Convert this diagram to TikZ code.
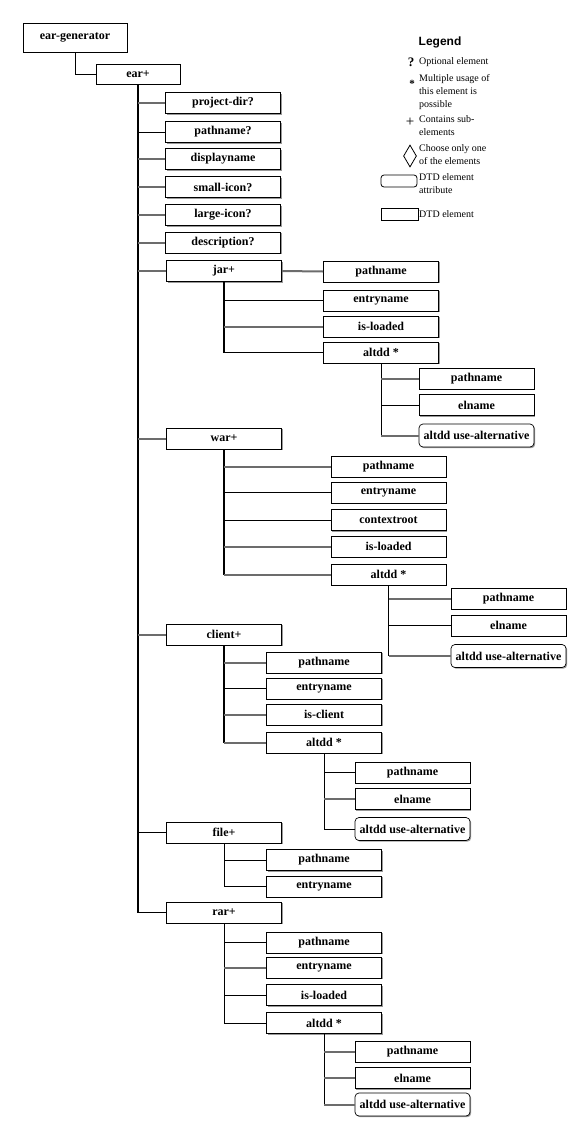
\documentclass[tikz,border=0pt]{standalone}
\usepackage{fontspec}
\setmainfont{Liberation Serif}
\newfontfamily\legendsans{Liberation Sans}
\usetikzlibrary{positioning, shapes.geometric, shadows}

\begin{document}
\begin{tikzpicture}[x=1pt, y=-1pt,
		elem/.style={draw, fill=white, line width=0.7pt, minimum width=115pt, minimum height=21pt, inner sep=0pt,
			font=\fontsize{12}{13}\selectfont\bfseries,
			drop shadow={shadow xshift=1.2pt, shadow yshift=-1.2pt, fill=gray!80, opacity=1}},
		attr/.style={elem, rounded corners=4pt, minimum height=23pt},
		gl/.style={draw=gray!85!black, line width=2pt},
		bl/.style={draw=black, line width=1pt},
		trunk/.style={draw=black, line width=2pt},
		legtext/.style={font=\fontsize{10}{13}\selectfont, inner sep=0pt, align=left}
		]
		\useasboundingbox (0,0) rectangle (577,1138);

		% root
		\node[elem, minimum width=104pt, minimum height=29pt] (gen) at (75,37.5) {ear-generator};
		\node[elem, minimum width=84pt, minimum height=20pt] (ear) at (138,74) {ear+};

		% ear children
		\node[elem] (pdir) at (223,103) {project-dir?};
		\node[elem] (pname) at (223,132) {pathname?};
		\node[elem] (dname) at (223,159) {displayname};
		\node[elem] (sicon) at (223,187) {small-icon?};
		\node[elem] (licon) at (223,215) {large-icon?};
		\node[elem] (descr) at (223,242.5) {description?};
		\node[elem] (jar) at (224,271) {jar+};
		\node[elem] (war) at (224,438.5) {war+};
		\node[elem] (client) at (224,634.5) {client+};
		\node[elem] (file) at (224,832.5) {file+};
		\node[elem] (rar) at (224,912.5) {rar+};

		% jar
		\node[elem] (jarpath) at (381,271.5) {pathname};
		\node[elem] (jarentry) at (381,300.5) {entryname};
		\node[elem] (jarload) at (381,326.5) {is-loaded};
		\node[elem] (jaralt) at (381,352.5) {altdd *};
		\node[elem] (jaraltpath) at (476.5,378.5) {pathname};
		\node[elem] (jaraltel) at (476.5,405) {elname};
		\node[attr] (jaraltuse) at (476.5,435.5) {altdd use-alternative};

		% war
		\node[elem] (warpath) at (388.5,466.5) {pathname};
		\node[elem] (warentry) at (388.5,492.5) {entryname};
		\node[elem] (warroot) at (388.5,520) {contextroot};
		\node[elem] (warload) at (388.5,546.5) {is-loaded};
		\node[elem] (waralt) at (388.5,574.5) {altdd *};
		\node[elem] (waraltpath) at (508.5,598.5) {pathname};
		\node[elem] (waraltel) at (508.5,625.5) {elname};
		\node[attr] (waraltuse) at (508.5,656) {altdd use-alternative};

		% client
		\node[elem] (clipath) at (324,662.5) {pathname};
		\node[elem] (clientry) at (324,688.5) {entryname};
		\node[elem] (cliis) at (324,714.5) {is-client};
		\node[elem] (clialt) at (324,742.5) {altdd *};
		\node[elem] (clialtpath) at (412.5,772.5) {pathname};
		\node[elem] (clialtel) at (412.5,799) {elname};
		\node[attr] (clialtuse) at (412.5,829) {altdd use-alternative};

		% file
		\node[elem] (filepath) at (324,860) {pathname};
		\node[elem] (fileentry) at (324,886.5) {entryname};

		% rar
		\node[elem] (rarpath) at (324,942.5) {pathname};
		\node[elem] (rarentry) at (324,967.5) {entryname};
		\node[elem] (rarload) at (324,995) {is-loaded};
		\node[elem] (raralt) at (324,1023) {altdd *};
		\node[elem] (raraltpath) at (412.5,1051.5) {pathname};
		\node[elem] (raraltel) at (412.5,1078) {elname};
		\node[attr] (raraltuse) at (412.5,1104.5) {altdd use-alternative};

		% connectors
		\draw[bl] (gen.south) |- (ear.west);
		\draw[trunk] (ear.south) -- (ear.south |- rar.west);
		\foreach \c/\s in {pdir/gl, pname/bl, dname/gl, sicon/gl, licon/gl, descr/gl, jar/gl, war/gl, client/gl, file/bl, rar/bl}
			\draw[\s] (ear.south |- \c.west) -- (\c.west);

		\draw[gl] (jar.east) -- (jarpath.west);
		\draw[bl, line width=1.4pt] (jar.south) -- (jar.south |- jaralt.west);
		\foreach \c/\s in {jarentry/bl, jarload/gl, jaralt/bl}
			\draw[\s] (jar.south |- \c.west) -- (\c.west);
		\draw[bl] (jaralt.south) -- (jaralt.south |- jaraltuse.west);
		\foreach \c/\s in {jaraltpath/gl, jaraltel/bl, jaraltuse/gl}
			\draw[\s] (jaralt.south |- \c.west) -- (\c.west);

		\draw[bl, line width=1.4pt] (war.south) -- (war.south |- waralt.west);
		\foreach \c/\s in {warpath/gl, warentry/bl, warroot/bl, warload/gl, waralt/gl}
			\draw[\s] (war.south |- \c.west) -- (\c.west);
		\draw[bl] (waralt.south) -- (waralt.south |- waraltuse.west);
		\foreach \c/\s in {waraltpath/gl, waraltel/bl, waraltuse/gl}
			\draw[\s] (waralt.south |- \c.west) -- (\c.west);

		\draw[bl, line width=1.4pt] (client.south) -- (client.south |- clialt.west);
		\foreach \c/\s in {clipath/gl, clientry/bl, cliis/gl, clialt/gl}
			\draw[\s] (client.south |- \c.west) -- (\c.west);
		\draw[bl] (clialt.south) -- (clialt.south |- clialtuse.west);
		\foreach \c/\s in {clialtpath/bl, clialtel/gl, clialtuse/bl}
			\draw[\s] (clialt.south |- \c.west) -- (\c.west);

		\draw[bl] (file.south) -- (file.south |- fileentry.west);
		\foreach \c/\s in {filepath/bl, fileentry/bl}
			\draw[\s] (file.south |- \c.west) -- (\c.west);

		\draw[bl] (rar.south) -- (rar.south |- raralt.west);
		\foreach \c/\s in {rarpath/bl, rarentry/gl, rarload/bl, raralt/bl}
			\draw[\s] (rar.south |- \c.west) -- (\c.west);
		\draw[bl] (raralt.south) -- (raralt.south |- raraltuse.west);
		\foreach \c/\s in {raraltpath/gl, raraltel/gl, raraltuse/gl}
			\draw[\s] (raralt.south |- \c.west) -- (\c.west);

		% legend
		\node[font=\legendsans\bfseries\fontsize{12}{14}\selectfont, inner sep=0pt] (legtitle) at (440,42) {Legend};
		\node[font=\bfseries\fontsize{13}{14}\selectfont, inner sep=0pt] (qmark) at (411,62) {?};
		\node[legtext, anchor=west] (optl) at (419,62) {Optional element};
		\node[font=\bfseries\fontsize{11}{12}\selectfont, inner sep=0pt] (star) at (412,84) {*};
		\node[legtext, anchor=north west] (multi) at (419,74) {Multiple usage of\\this element is\\possible};
		\node[font=\fontsize{15}{15}\selectfont, inner sep=0pt] (plus) at (410,122) {+};
		\node[legtext, anchor=north west] (contains) at (419,115) {Contains sub-\\elements};
		\node[draw, line width=0.8pt, diamond, minimum width=13pt, minimum height=22pt, inner sep=0pt] (dia) at (410,156) {};
		\node[legtext, anchor=north west] (choose) at (419,144) {Choose only one\\of the elements};
		\node[draw, line width=0.8pt, rounded corners=3pt, minimum width=36pt, minimum height=12pt, inner sep=0pt] (legattr) at (399,181) {};
		\node[legtext, anchor=north west] (attrtxt) at (419,173) {DTD element\\attribute};
		\node[draw, line width=0.8pt, minimum width=37pt, minimum height=12pt, inner sep=0pt] (legelem) at (399.5,214) {};
		\node[legtext, anchor=west] (elemtxt) at (419,214) {DTD element};
	\end{tikzpicture}
\end{document}
